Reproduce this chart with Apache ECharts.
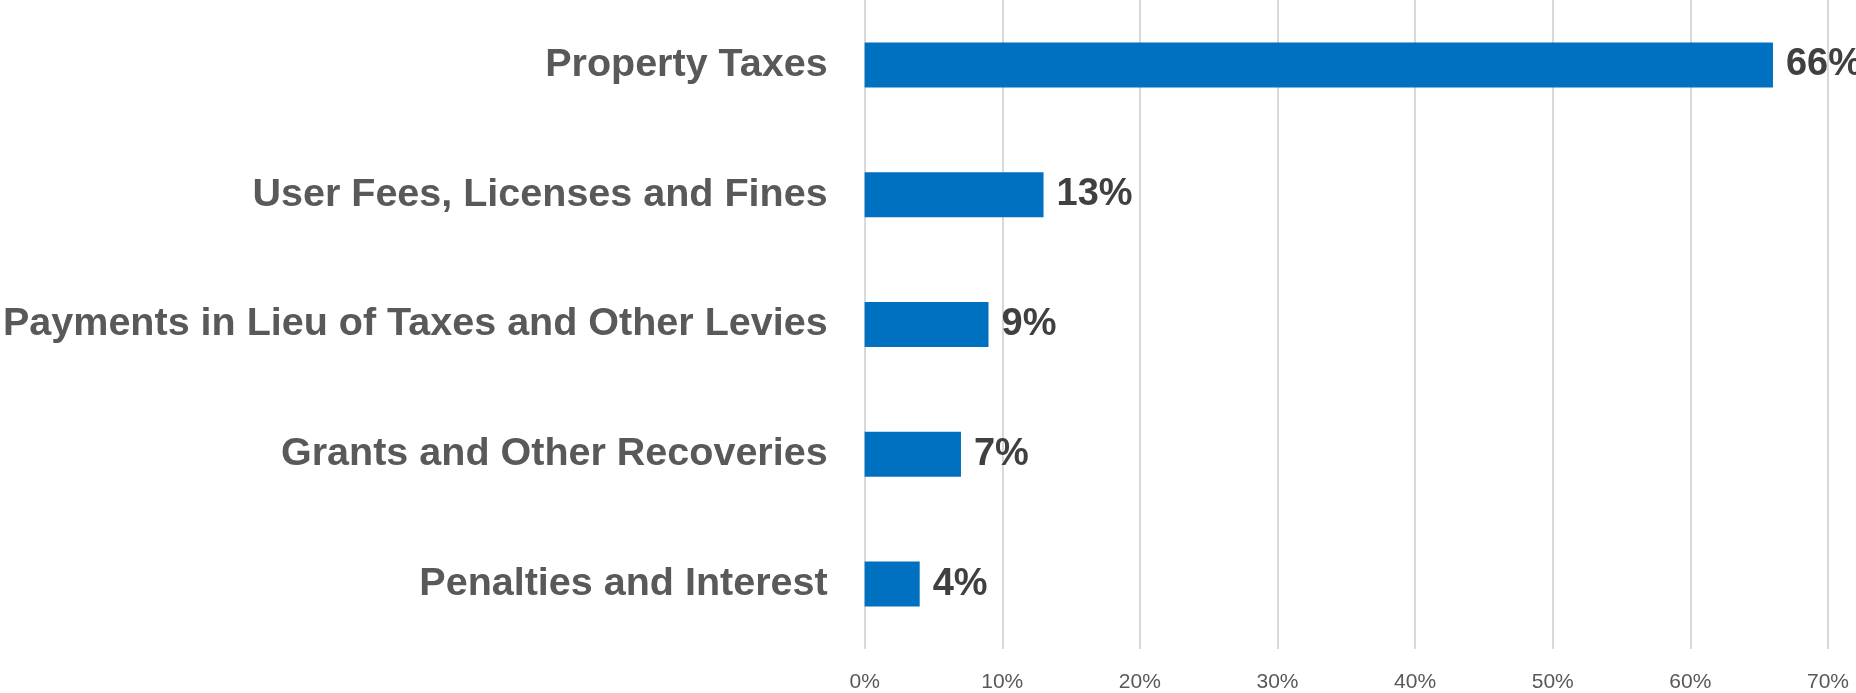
<!DOCTYPE html>
<html><head><meta charset="utf-8">
<script src="https://cdn.jsdelivr.net/npm/echarts@6/dist/echarts.min.js"></script>
<style>html,body{margin:0;padding:0;background:#fff}#c{width:1856px;height:693px}</style>
</head><body><div id="c"></div>
<script>
const categories = ["Property Taxes","User Fees, Licenses and Fines","Payments in Lieu of Taxes and Other Levies","Grants and Other Recoveries","Penalties and Interest"];
const shares = [66,13,9,7,4];
const xTicks = [0,10,20,30,40,50,60,70];

const FONT = '"Liberation Sans Narrow","Arial Narrow","Liberation Sans",Arial,sans-serif';
const chart = echarts.init(document.getElementById('c'));
chart.setOption({
  animation:false,
  grid:{left:863,right:28,top:0,bottom:44,containLabel:false},
  xAxis:{type:'value',min:xTicks[0],max:xTicks[xTicks.length-1],interval:10,
    axisLine:{show:false},axisTick:{show:false},
    splitLine:{show:true,lineStyle:{color:'#d9d9d9',width:2}},
    axisLabel:{formatter:'{value}%',color:'#595959',fontSize:21,fontFamily:FONT,margin:23}},
  yAxis:{type:'category',data:categories,inverse:true,
    axisLine:{show:false},axisTick:{show:false},
    axisLabel:{color:'#595959',fontSize:39.5,fontWeight:'bold',fontFamily:FONT,margin:37}},
  series:[{type:'bar',data:shares,barWidth:45,
    itemStyle:{color:'#0070C0'},
    label:{show:true,position:'right',distance:13,formatter:'{c}%',color:'#404040',fontSize:38,fontWeight:'bold',fontFamily:FONT}}]
});
</script></body></html>
